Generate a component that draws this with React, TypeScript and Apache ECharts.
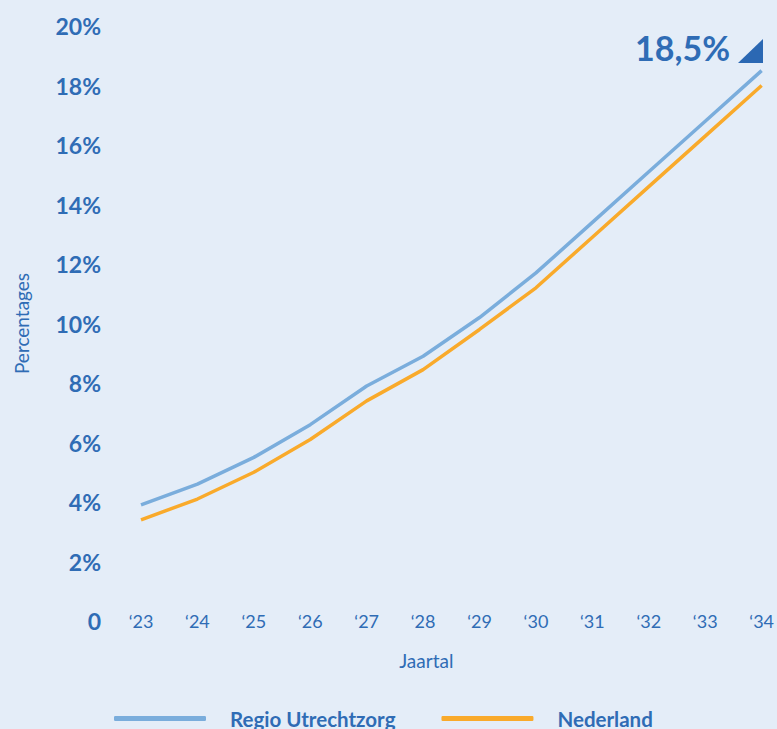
import React, { useEffect, useRef } from "react";
import * as echarts from "echarts";

const years = ["‘23", "‘24", "‘25", "‘26", "‘27", "‘28", "‘29", "‘30", "‘31", "‘32", "‘33", "‘34"];
const regioUtrechtzorg = [3.9, 4.6, 5.5, 6.6, 7.9, 8.9, 10.2, 11.7, 13.4, 15.1, 16.8, 18.5];
const nederland = [3.4, 4.1, 5.0, 6.1, 7.4, 8.45, 9.8, 11.2, 12.9, 14.6, 16.3, 18.0];
const seriesNames = ["Regio Utrechtzorg", "Nederland"];
const highlightLabel = "18,5%";

const TEXT = "#2f6cb5";
const BLUE = "#7aaddc";
const ORANGE = "#f9aa2b";
const BG = "#e4edf8";
const FONT = "Lato";

export default function App() {
  const ref = useRef<HTMLDivElement>(null);
  useEffect(() => {
    if (!ref.current) return;
    const chart = echarts.init(ref.current, null, { renderer: "svg" });
    chart.setOption({
      animation: false,
      backgroundColor: BG,
      textStyle: { fontFamily: FONT },
      grid: { left: 141, right: 11, top: 26, bottom: 108 },
      legend: {
        left: 109,
        top: 703,
        itemWidth: 92,
        itemHeight: 5,
        itemGap: 46,
        icon: "roundRect",
        data: seriesNames,
        textStyle: {
          color: TEXT,
          fontSize: 20.5,
          fontWeight: "bold",
          fontFamily: FONT,
          padding: [0, 0, 0, 19],
        },
      },
      xAxis: {
        type: "category",
        data: years,
        boundaryGap: false,
        axisLine: { show: false },
        axisTick: { show: false },
        splitLine: { show: false },
        axisLabel: {
          color: TEXT,
          fontSize: 18,
          fontFamily: FONT,
          margin: 0,
          verticalAlign: "middle",
        },
        name: "Jaartal",
        nameLocation: "middle",
        nameGap: 30,
        nameTextStyle: {
          color: TEXT,
          fontSize: 19,
          fontFamily: FONT,
          padding: [0, 50, 0, 0],
        },
      },
      yAxis: {
        type: "value",
        min: 0,
        max: 20,
        interval: 2,
        axisLine: { show: false },
        axisTick: { show: false },
        splitLine: { show: false },
        axisLabel: {
          color: TEXT,
          fontSize: 23,
          fontWeight: "bold",
          fontFamily: FONT,
          margin: 40,
          formatter: (v: number) => (v === 0 ? "0" : v + "%"),
        },
        name: "Percentages",
        nameLocation: "middle",
        nameRotate: 90,
        nameGap: 110,
        nameTextStyle: { color: TEXT, fontSize: 19, fontFamily: FONT },
      },
      series: [
        {
          name: seriesNames[0],
          type: "line",
          data: regioUtrechtzorg,
          symbol: "none",
          lineStyle: { color: BLUE, width: 3.5 },
          itemStyle: { color: BLUE },
        },
        {
          name: seriesNames[1],
          type: "line",
          data: nederland,
          symbol: "none",
          lineStyle: { color: ORANGE, width: 3.5 },
          itemStyle: { color: ORANGE },
        },
      ],
      graphic: [
        {
          type: "text",
          right: 47,
          top: 30,
          style: {
            text: highlightLabel,
            fill: TEXT,
            font: `bold 34px ${FONT}`,
          },
        },
        {
          type: "polygon",
          shape: { points: [[763, 39], [763, 63], [738, 63]] },
          style: { fill: "#2b68b3" },
        },
      ],
    });
    return () => chart.dispose();
  }, []);
  return (
    <div
      ref={ref}
      style={{ position: "fixed", left: 0, top: 0, width: 777, height: 729 }}
    />
  );
}
